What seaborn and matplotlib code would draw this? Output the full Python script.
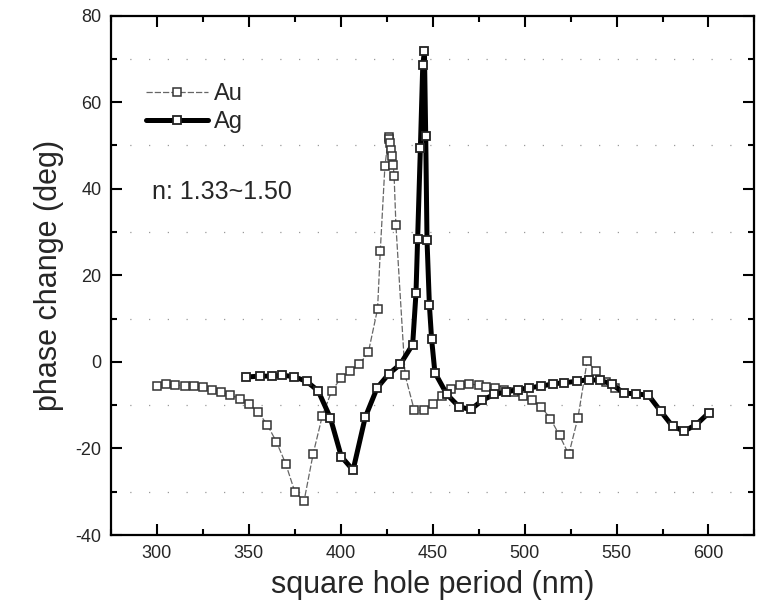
import numpy as np
import pandas as pd
import matplotlib
matplotlib.use("Agg")
import matplotlib.pyplot as plt
from matplotlib.ticker import MultipleLocator, FuncFormatter
from matplotlib.lines import Line2D
import seaborn as sns

# ---- data ----
au_period = [300, 305, 310, 315, 320, 325, 330, 335, 340, 345, 350, 355, 360, 365, 370,
             375, 380, 385, 390, 395, 400, 405, 410, 415, 420, 421.5, 424, 426, 426.5,
             427, 427.5, 428, 428.5, 429, 430, 435, 440, 445, 450, 455, 460, 465, 470,
             475, 479, 484, 489, 494, 499, 504, 509, 514, 519, 524, 529, 534, 539, 544, 549]
au_phase = [-5.5, -5.2, -5.4, -5.5, -5.6, -5.8, -6.4, -7.0, -7.7, -8.5, -9.7, -11.6, -14.5,
            -18.5, -23.5, -30.0, -32.2, -21.2, -12.4, -6.8, -3.8, -2.2, -0.6, 2.2, 12.2,
            25.7, 45.2, 52.0, 51.5, 50.5, 49.0, 47.5, 45.5, 43.0, 31.5, -3.1, -11.2, -11.2,
            -9.7, -7.9, -6.2, -5.3, -5.1, -5.4, -5.8, -6.0, -6.4, -7.0, -7.9, -8.7, -10.4,
            -13.1, -17.0, -21.4, -12.9, 0.1, -2.2, -4.6, -6.0]

ag_period = [348.4, 356.1, 362.4, 368.2, 374.3, 381.4, 387.7, 394.3, 400.3, 406.7, 413.3,
             419.8, 426.1, 432.3, 439.1, 440.9, 441.8, 443.3, 444.6, 445.5, 446.2, 446.9,
             448.2, 449.4, 451.2, 457.7, 464.4, 470.7, 477.0, 483.4, 489.7, 496.4, 502.3,
             509.0, 515.5, 521.6, 528.5, 534.8, 541.1, 547.4, 553.8, 560.6, 567.3, 574.0,
             580.5, 586.8, 593.4, 600.1]
ag_phase = [-3.5, -3.3, -3.3, -3.1, -3.4, -4.5, -6.7, -12.9, -21.9, -25.0, -12.8, -6.0,
            -2.8, -0.6, 4.0, 15.8, 28.4, 49.4, 68.6, 71.7, 52.1, 28.2, 13.1, 5.3, -2.5,
            -7.5, -10.4, -11.0, -8.9, -7.5, -7.0, -6.4, -6.0, -5.6, -5.1, -4.8, -4.5,
            -4.1, -4.3, -5.1, -7.2, -7.4, -7.7, -11.4, -14.9, -16.0, -14.5, -11.8]

series_labels = ["Au", "Ag"]
annotation = "n: 1.33~1.50"
x_label = "square hole period (nm)"
y_label = "phase change (deg)"

au_df = pd.DataFrame({"period": au_period, "phase": au_phase})
ag_df = pd.DataFrame({"period": ag_period, "phase": ag_phase})

# ---- style ----
sns.set_style("ticks")
plt.rcParams["font.family"] = ["Liberation Sans", "DejaVu Sans"]
plt.rcParams["axes.unicode_minus"] = False

fig = plt.figure(figsize=(7.57, 6.09), dpi=100)
ax = fig.add_axes([0.1466, 0.1215, 0.850, 0.853])

au_style = dict(color="#666666", linewidth=0.9, linestyle=(0, (5, 1.6)),
                marker="s", markersize=6.2, markerfacecolor="white",
                markeredgecolor="#333333", markeredgewidth=1.1)
ag_style = dict(color="black", linewidth=3.6, linestyle="-",
                marker="s", markersize=6.2, markerfacecolor="white",
                markeredgecolor="#222222", markeredgewidth=1.3)

sns.lineplot(data=au_df, x="period", y="phase", ax=ax, sort=False, estimator=None,
             zorder=3, **au_style)
sns.lineplot(data=ag_df, x="period", y="phase", ax=ax, sort=False, estimator=None,
             zorder=4, **ag_style)

ax.set_xlim(275, 625)
ax.set_ylim(-40, 80)
ax.xaxis.set_major_locator(MultipleLocator(50))
ax.xaxis.set_minor_locator(MultipleLocator(25))
ax.yaxis.set_major_locator(MultipleLocator(20))
ax.yaxis.set_minor_locator(MultipleLocator(10))
ax.yaxis.set_major_formatter(FuncFormatter(lambda v, p: f"{v:.0f}"))

def xfmt(v, p):
    return f"{v:.0f}" if 300 <= v <= 600 else ""
ax.xaxis.set_major_formatter(FuncFormatter(xfmt))

ax.tick_params(which="both", direction="in", top=True, right=True, width=1.5,
               color="black", labelsize=13, pad=7)
ax.tick_params(which="major", length=8)
ax.tick_params(which="minor", length=4.5)
for s in ax.spines.values():
    s.set_linewidth(1.6)
    s.set_color("black")

# faint dotted scan-like gridlines at minor y positions
ax.grid(which="minor", axis="y", color="#9a9a9a", linewidth=0.9,
        linestyle=(0, (1, 14)))
ax.grid(which="major", visible=False)
ax.set_axisbelow(True)

ax.set_xlabel(x_label, fontsize=22, labelpad=6)
ax.set_ylabel(y_label, fontsize=22, labelpad=8)

handles = [Line2D([], [], **au_style), Line2D([], [], **ag_style)]
ax.legend(handles, series_labels, loc="upper left", bbox_to_anchor=(0.055, 0.87),
          frameon=False, fontsize=17, handlelength=2.6, handletextpad=0.25,
          labelspacing=0.25, borderpad=0, borderaxespad=0, numpoints=1)

ax.text(0.063, 0.661, annotation, transform=ax.transAxes, fontsize=18,
        va="center", ha="left")

fig.savefig("out.png", dpi=100, facecolor="white")
